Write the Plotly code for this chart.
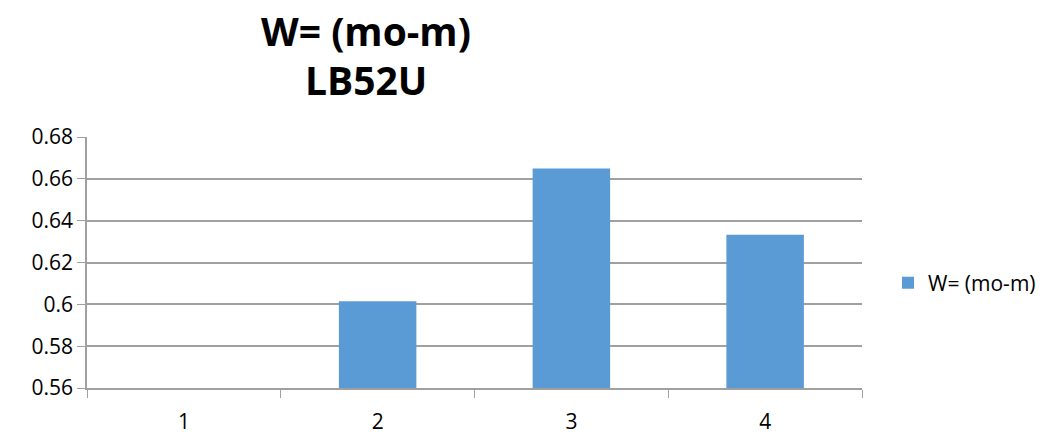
import plotly.graph_objects as go

# Series data
categories = ["1", "2", "3", "4"]
values = [0.0, 0.6015, 0.665, 0.6333]
series_name = "W= (mo-m)"
title_lines = ["W= (mo-m)", "LB52U"]
y_ticks = [0.56, 0.58, 0.60, 0.62, 0.64, 0.66, 0.68]
y_tick_labels = ["0.56", "0.58", "0.6", "0.62", "0.64", "0.66", "0.68"]

W, H = 1051, 436
left, right, top, bottom = 87, 862, 137, 388

bar_color = "#5b9bd5"
grid_color = "#a0a0a0"
font_family = "Open Sans, Noto Sans, sans-serif"

fig = go.Figure()
fig.add_trace(go.Bar(
    x=categories,
    y=values,
    name=series_name,
    marker=dict(color=bar_color, line=dict(width=0)),
    showlegend=True,
))

# Two-line bold title, centred at x≈366 px
for line, y_px in zip(title_lines, [31, 79]):
    fig.add_annotation(
        text="<b>" + line + "</b>",
        xref="paper", yref="paper",
        x=(366 - left) / (right - left),
        y=1 + (top - y_px) / (bottom - top),
        xanchor="center", yanchor="middle",
        showarrow=False,
        font=dict(family=font_family, size=39, color="black"),
    )

fig.update_layout(
    width=W, height=H,
    margin=dict(l=left, r=W - right, t=top, b=H - bottom, pad=0),
    paper_bgcolor="white",
    plot_bgcolor="white",
    bargap=0.6,
    font=dict(family=font_family, size=20, color="black"),
    legend=dict(
        xref="container",
        yref="container",
        x=888 / W,
        xanchor="left",
        y=1 - 283 / H,
        yanchor="middle",
        font=dict(size=21),
        itemwidth=30,
        bgcolor="rgba(0,0,0,0)",
    ),
    xaxis=dict(
        type="category",
        automargin=False,
        showline=True,
        linecolor=grid_color,
        linewidth=1.5,
        ticks="outside",
        tickson="boundaries",
        ticklen=8,
        tickcolor=grid_color,
        showgrid=False,
        tickfont=dict(size=21),
        ticklabelstandoff=14,
    ),
    yaxis=dict(
        automargin=False,
        range=[0.56, 0.68],
        tickvals=y_ticks,
        ticktext=y_tick_labels,
        showgrid=True,
        gridcolor=grid_color,
        gridwidth=1.5,
        showline=True,
        linecolor=grid_color,
        linewidth=1.5,
        ticks="outside",
        ticklen=8,
        tickcolor=grid_color,
        tickfont=dict(size=21),
        zeroline=False,
    ),
)

fig.write_html("out.html")
